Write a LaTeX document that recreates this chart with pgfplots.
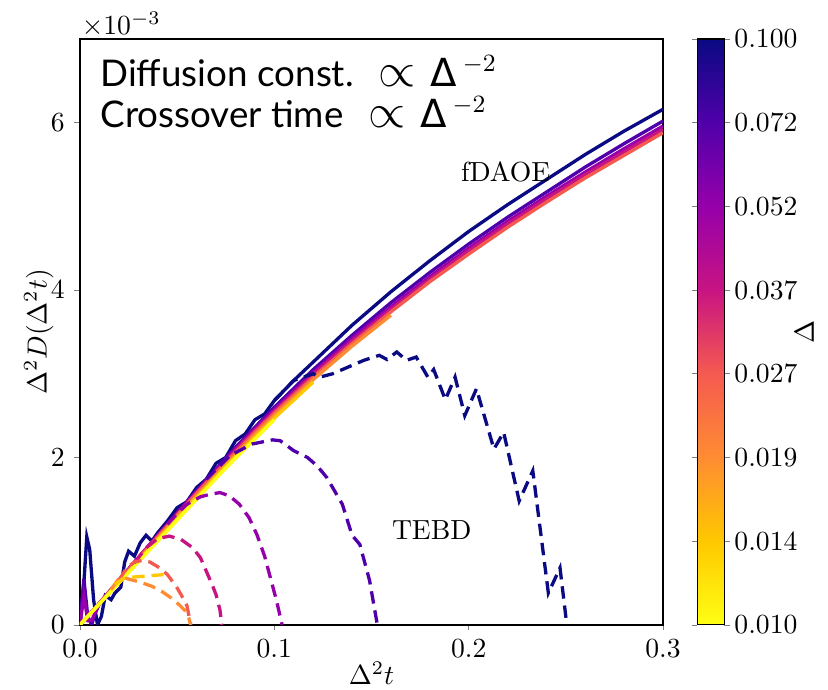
\documentclass[border=0pt]{standalone}
\usepackage{fontspec}
\usepackage{pgfplots}
\pgfplotsset{compat=1.18}
\newfontfamily\gill{Lato}
\newfontfamily\symf{DejaVu Sans}

\definecolor{c100}{RGB}{10,10,130}
\definecolor{c072}{RGB}{80,0,170}
\definecolor{c052}{RGB}{150,0,170}
\definecolor{c037}{RGB}{200,20,130}
\definecolor{c027}{RGB}{245,90,80}
\definecolor{c019}{RGB}{255,140,50}
\definecolor{c014}{RGB}{255,200,0}
\definecolor{c010}{RGB}{255,255,20}

% "∝ Δ^-2" as in the reference
\newcommand{\scaling}{\hspace{9pt}{\fontsize{16}{16}\selectfont$\propto$}\hspace{5.5pt}%
    {\symf\fontsize{14}{14}\selectfont Δ}\hspace{2pt}%
    \raisebox{5.4pt}{\fontsize{9.5}{9.5}\selectfont$-2$}}

\begin{document}
\begin{tikzpicture}
\begin{axis}[
    scale only axis,
    width=211pt, height=212pt,
    xmin=0, xmax=0.3, ymin=0, ymax=7,
    xtick={0,0.1,0.2,0.3},
    ytick={0,2,4,6},
    xticklabel style={/pgf/number format/.cd,fixed,fixed zerofill,precision=1},
    tick align=outside,
    xtick pos=left, ytick pos=left,
    major tick length=2pt,
    xlabel={$\Delta^2 t$},
    ylabel={$\Delta^2 D(\Delta^2 t)$},
    xlabel style={at={([yshift=-17.6pt]rel axis cs:0.5,0)}, anchor=center, inner sep=0pt},
    ylabel style={at={([xshift=-14.9pt]rel axis cs:0,0.5)}, anchor=center, inner sep=0pt},
    axis line style={line width=0.8pt},
    clip mode=individual,
    colormap={plasmar}{rgb255(0cm)=(255,255,20); rgb255(1cm)=(255,200,0);
        rgb255(2cm)=(255,140,50); rgb255(3cm)=(245,90,80); rgb255(4cm)=(200,20,130);
        rgb255(5cm)=(150,0,170); rgb255(6cm)=(80,0,170); rgb255(7cm)=(10,10,130)},
    colorbar,
    point meta min=-2, point meta max=-1,
    colorbar style={
        width=9.8pt,
        at={(parent axis.north east)}, anchor=north west, xshift=3.8pt,
        ytick={-2,-1.857143,-1.714286,-1.571429,-1.428571,-1.285714,-1.142857,-1},
        yticklabels={0.010,0.014,0.019,0.027,0.037,0.052,0.072,0.100},
        yticklabel style={xshift=-1.8pt},
        ylabel={$\Delta$},
        ylabel style={at={([xshift=29pt]rel axis cs:1,0.5)}, anchor=center, inner sep=0pt},
        tick align=outside,
        major tick length=2pt,
    },
    solid line/.style={line width=1.2pt},
    tebd/.style={line width=1.2pt, dash pattern=on 4.5pt off 2.5pt},
]
% fDAOE (solid)
\addplot[solid line, c100] coordinates {
    (0,0) (0.002,0.5) (0.0035,1.05) (0.005,0.9) (0.007,0.3) (0.009,0.0) (0.011,0.1)
    (0.013,0.35) (0.016,0.30) (0.018,0.38) (0.021,0.45) (0.023,0.75) (0.025,0.88)
    (0.028,0.82) (0.031,0.98) (0.034,1.07) (0.037,1.0) (0.040,1.10) (0.045,1.24)
    (0.05,1.40) (0.055,1.47) (0.06,1.64) (0.065,1.74) (0.07,1.93) (0.075,2.0)
    (0.08,2.20) (0.085,2.28) (0.09,2.45) (0.095,2.52) (0.10,2.68) (0.11,2.92)
    (0.12,3.14) (0.14,3.58) (0.16,3.98) (0.18,4.35) (0.20,4.70) (0.22,5.02)
    (0.24,5.32) (0.26,5.62) (0.28,5.90) (0.30,6.16)
};
\addplot[solid line, c072] coordinates {
    (0,0) (0.002,0.55) (0.004,0.1) (0.006,0.0) (0.008,0.15) (0.01,0.25) (0.02,0.53)
    (0.03,0.80) (0.04,1.07) (0.05,1.34) (0.06,1.60) (0.07,1.86) (0.08,2.12)
    (0.09,2.36) (0.10,2.60) (0.12,3.05) (0.14,3.46) (0.16,3.85) (0.18,4.21)
    (0.20,4.55) (0.22,4.87) (0.24,5.17) (0.26,5.47) (0.28,5.75) (0.30,6.02)
};
\addplot[solid line, c052] coordinates {
    (0,0) (0.002,0.35) (0.004,0.05) (0.006,0.05) (0.01,0.26) (0.02,0.53) (0.03,0.80)
    (0.04,1.07) (0.05,1.33) (0.06,1.59) (0.07,1.85) (0.08,2.10) (0.09,2.34)
    (0.10,2.57) (0.12,3.01) (0.14,3.42) (0.16,3.80) (0.18,4.16) (0.20,4.50)
    (0.22,4.82) (0.24,5.12) (0.26,5.41) (0.28,5.69) (0.30,5.96)
};
\addplot[solid line, c037] coordinates {
    (0,0) (0.01,0.26) (0.02,0.53) (0.03,0.80) (0.04,1.06) (0.05,1.32) (0.06,1.58)
    (0.07,1.83) (0.08,2.08) (0.09,2.32) (0.10,2.55) (0.12,2.99) (0.14,3.39)
    (0.16,3.77) (0.18,4.13) (0.20,4.47) (0.22,4.79) (0.24,5.09) (0.26,5.38)
    (0.28,5.65) (0.30,5.92)
};
\addplot[solid line, c027] coordinates {
    (0,0) (0.01,0.26) (0.02,0.52) (0.03,0.79) (0.04,1.05) (0.05,1.31) (0.06,1.57)
    (0.07,1.82) (0.08,2.06) (0.09,2.30) (0.10,2.53) (0.12,2.96) (0.14,3.36)
    (0.16,3.74) (0.18,4.10) (0.20,4.43) (0.22,4.75) (0.24,5.05) (0.26,5.34)
    (0.28,5.61) (0.30,5.88)
};
\addplot[solid line, c019] coordinates {
    (0,0) (0.01,0.25) (0.02,0.51) (0.03,0.77) (0.04,1.03) (0.05,1.29) (0.06,1.54)
    (0.07,1.79) (0.08,2.03) (0.09,2.27) (0.10,2.50) (0.12,2.93) (0.14,3.33)
    (0.16,3.70)
};
\addplot[solid line, c014] coordinates {
    (0,0) (0.01,0.25) (0.02,0.50) (0.03,0.76) (0.04,1.02) (0.05,1.27) (0.06,1.52)
    (0.07,1.77) (0.08,2.01) (0.09,2.24) (0.10,2.47) (0.12,2.90)
};
\addplot[solid line, c010] coordinates {
    (0,0) (0.01,0.25) (0.02,0.50) (0.03,0.75) (0.04,1.00) (0.05,1.25) (0.06,1.50)
    (0.07,1.75) (0.08,1.99) (0.09,2.22) (0.10,2.45)
};
% TEBD (dashed)
\addplot[tebd, c100] coordinates {
    (0.10,2.68) (0.11,2.92) (0.12,3.0) (0.1235,2.96) (0.13,3.0) (0.134,3.04)
    (0.14,3.10) (0.146,3.16) (0.154,3.22) (0.158,3.17) (0.163,3.26) (0.168,3.16)
    (0.173,3.20) (0.179,2.96) (0.182,3.05) (0.188,2.69) (0.193,2.96) (0.198,2.50)
    (0.204,2.82) (0.213,2.10) (0.218,2.30) (0.226,1.48) (0.233,1.84) (0.241,0.38)
    (0.247,0.68) (0.2505,0.0)
};
\addplot[tebd, c072] coordinates {
    (0.065,1.74) (0.072,1.90) (0.077,2.02) (0.0885,2.16) (0.099,2.21) (0.103,2.20)
    (0.1065,2.14) (0.11,2.08) (0.117,2.0) (0.122,1.9) (0.127,1.76) (0.135,1.44)
    (0.140,1.07) (0.144,0.96) (0.149,0.53) (0.153,0.0)
};
\addplot[tebd, c052] coordinates {
    (0.045,1.20) (0.050,1.33) (0.055,1.44) (0.062,1.53) (0.067,1.56) (0.072,1.58)
    (0.077,1.54) (0.082,1.44) (0.087,1.28) (0.091,1.08) (0.095,0.82) (0.098,0.56)
    (0.101,0.30) (0.104,0.0)
};
\addplot[tebd, c037] coordinates {
    (0.028,0.74) (0.034,0.92) (0.040,1.03) (0.046,1.06) (0.052,1.02) (0.058,0.92)
    (0.062,0.80) (0.065,0.64) (0.068,0.48) (0.070,0.36) (0.072,0.18) (0.073,0.0)
};
\addplot[tebd, c027] coordinates {
    (0.020,0.53) (0.024,0.68) (0.028,0.75) (0.032,0.77) (0.036,0.75) (0.041,0.68)
    (0.045,0.60) (0.050,0.44) (0.053,0.32) (0.055,0.23) (0.057,0.0)
};
\addplot[tebd, c019] coordinates {
    (0.016,0.42) (0.0196,0.54) (0.023,0.56) (0.026,0.54) (0.031,0.51) (0.037,0.46)
    (0.042,0.40) (0.047,0.32) (0.051,0.24) (0.054,0.17) (0.056,0.08) (0.057,0.0)
};
\addplot[tebd, c014] coordinates {
    (0.018,0.48) (0.022,0.55) (0.027,0.57) (0.033,0.58) (0.038,0.59) (0.043,0.60)
};

\node[anchor=base west, inner sep=0pt, font=\gill\fontsize{13.3}{16}\selectfont] at (axis cs:0.0103,6.43)
    {Diffusion const.\scaling};
\node[anchor=base west, inner sep=0pt, font=\gill\fontsize{13.3}{16}\selectfont] at (axis cs:0.0103,5.94)
    {Crossover time\scaling};
\node at (axis cs:0.219,5.41) {fDAOE};
\node at (axis cs:0.181,1.13) {TEBD};
\node[anchor=south west, inner sep=0.5pt] at (rel axis cs:0,1) {$\times10^{-3}$};
\coordinate (bbsw) at (rel axis cs:-0.1372,-0.1109);
\coordinate (bbne) at (rel axis cs:1.2830,1.0666);
\end{axis}
\path (bbsw) rectangle (bbne);
\end{tikzpicture}
\end{document}
